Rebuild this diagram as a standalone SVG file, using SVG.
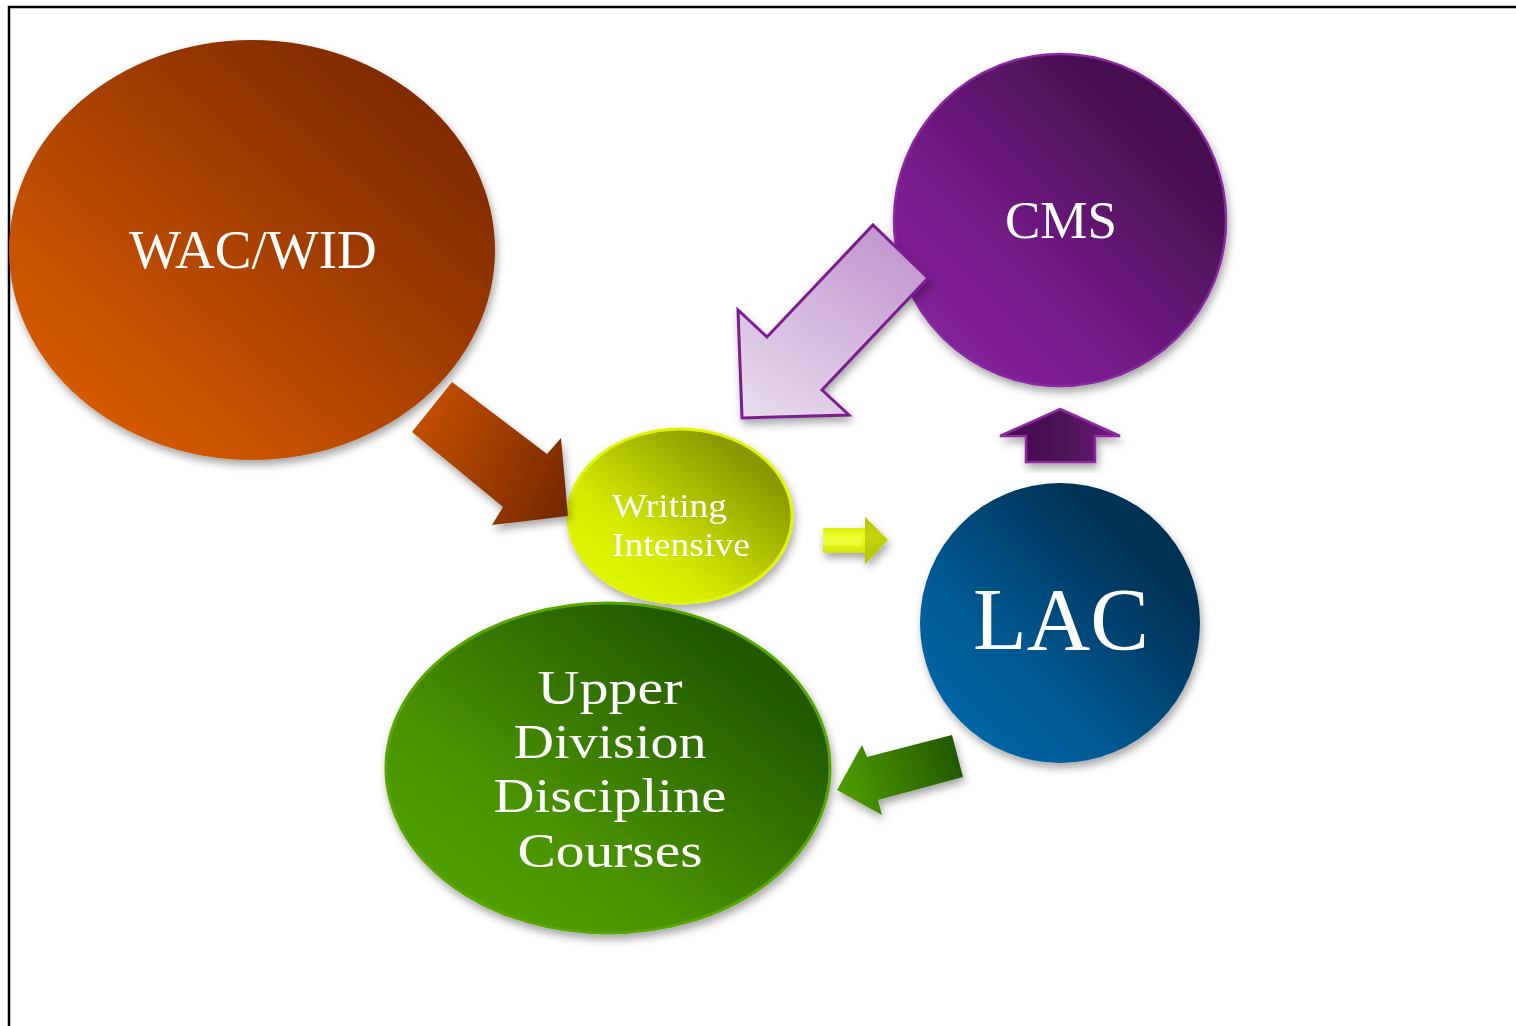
<svg xmlns="http://www.w3.org/2000/svg" width="1516" height="1026" viewBox="0 0 1516 1026">
<defs>
<style>
.lbl{font-family:"Liberation Serif","Times New Roman",serif;fill:#ffffff;}
.mid{text-anchor:middle;}
</style>
<filter id="sh" x="-20%" y="-20%" width="140%" height="140%">
<feDropShadow dx="2" dy="5" stdDeviation="4" flood-color="#000" flood-opacity="0.35"/>
</filter>
<linearGradient id="gWac" x1="0" y1="1" x2="1" y2="0">
<stop offset="0" stop-color="#e26400"/>
<stop offset="0.3" stop-color="#c45000"/>
<stop offset="0.75" stop-color="#8a3000"/>
<stop offset="1" stop-color="#762600"/>
</linearGradient>
<linearGradient id="gCms" x1="0" y1="1" x2="1" y2="0">
<stop offset="0" stop-color="#8a24a0"/>
<stop offset="0.35" stop-color="#771c8c"/>
<stop offset="0.75" stop-color="#4a1054"/>
<stop offset="1" stop-color="#3a0c44"/>
</linearGradient>
<linearGradient id="gLac" x1="0" y1="1" x2="1" y2="0">
<stop offset="0" stop-color="#006cb0"/>
<stop offset="0.35" stop-color="#005a94"/>
<stop offset="0.75" stop-color="#003358"/>
<stop offset="1" stop-color="#002a4a"/>
</linearGradient>
<linearGradient id="gWi" x1="0" y1="1" x2="1" y2="0">
<stop offset="0" stop-color="#e6ff00"/>
<stop offset="0.35" stop-color="#d4ea00"/>
<stop offset="0.8" stop-color="#8a9a00"/>
<stop offset="1" stop-color="#7e8e00"/>
</linearGradient>
<linearGradient id="gUp" x1="0" y1="1" x2="1" y2="0">
<stop offset="0" stop-color="#55a800"/>
<stop offset="0.35" stop-color="#4a9200"/>
<stop offset="0.8" stop-color="#225a00"/>
<stop offset="1" stop-color="#1c5000"/>
</linearGradient>
<linearGradient id="gBrownArrow" x1="0" y1="0.3" x2="1" y2="0.7">
<stop offset="0" stop-color="#c45000"/>
<stop offset="1" stop-color="#7a2a00"/>
</linearGradient>
<linearGradient id="gLavArrow" x1="0.8" y1="0" x2="0.2" y2="1">
<stop offset="0" stop-color="#c194cf"/>
<stop offset="1" stop-color="#e6d8eb"/>
</linearGradient>
<linearGradient id="gUpArrow" x1="0" y1="0" x2="1" y2="0">
<stop offset="0" stop-color="#440f4e"/>
<stop offset="0.55" stop-color="#4c1256"/>
<stop offset="1" stop-color="#741c86"/>
</linearGradient>
<linearGradient id="gYelArrow" x1="0" y1="0" x2="0" y2="1">
<stop offset="0" stop-color="#c8d800"/>
<stop offset="0.4" stop-color="#eaff20"/>
<stop offset="1" stop-color="#c4d400"/>
</linearGradient>
<linearGradient id="gGreenArrow" x1="0" y1="0.6" x2="1" y2="0.4">
<stop offset="0" stop-color="#4f9c00"/>
<stop offset="1" stop-color="#225800"/>
</linearGradient>
</defs>
<rect x="0" y="0" width="1516" height="1026" fill="#ffffff"/>
<path d="M9,1026 V7 H1516" fill="none" stroke="#000" stroke-width="2.5"/>

<g id="node-wac" filter="url(#sh)">
<ellipse cx="252" cy="250" rx="243" ry="210" fill="url(#gWac)"/>
<text class="lbl mid" x="253" y="268" font-size="55">WAC/WID</text>
</g>

<g id="node-cms" filter="url(#sh)">
<circle cx="1060" cy="220" r="166" fill="url(#gCms)" stroke="#8a2aa0" stroke-width="2.5"/>
<text class="lbl mid" x="1061" y="238" font-size="53">CMS</text>
</g>

<g id="node-lac" filter="url(#sh)">
<circle cx="1060" cy="623" r="140" fill="url(#gLac)"/>
<text class="lbl mid" x="1061" y="649" font-size="88">LAC</text>
</g>

<g id="node-wi" filter="url(#sh)">
<ellipse cx="680" cy="516" rx="112" ry="87" fill="url(#gWi)" stroke="#e2f500" stroke-width="3"/>
<text class="lbl" x="612" y="517" font-size="33" textLength="115" lengthAdjust="spacingAndGlyphs">Writing</text>
<text class="lbl" x="612" y="556" font-size="33" textLength="138" lengthAdjust="spacingAndGlyphs">Intensive</text>
</g>

<g id="node-upper" filter="url(#sh)">
<ellipse cx="608" cy="768" rx="222" ry="165" fill="url(#gUp)" stroke="#5aa600" stroke-width="3"/>
<text class="lbl mid" x="610" y="704" font-size="49" textLength="145" lengthAdjust="spacingAndGlyphs">Upper</text>
<text class="lbl mid" x="610" y="758" font-size="49" textLength="193" lengthAdjust="spacingAndGlyphs">Division</text>
<text class="lbl mid" x="610" y="812" font-size="49" textLength="233" lengthAdjust="spacingAndGlyphs">Discipline</text>
<text class="lbl mid" x="610" y="867" font-size="49" textLength="185" lengthAdjust="spacingAndGlyphs">Courses</text>
</g>

<g id="connectors">
<polygon id="arrow-wac-wi" points="452,382 547,454 561,438 568,516 492,525 503,507 412,432" fill="url(#gBrownArrow)" filter="url(#sh)"/>
<polygon id="arrow-cms-wi" points="873,225 928,278 822,390 849,415 742,418 738,310 767,337" fill="url(#gLavArrow)" stroke="#7b1f8f" stroke-width="3" stroke-linejoin="miter" filter="url(#sh)"/>
<polygon id="arrow-lac-cms" points="1060,409 1120,436 1095,436 1095,462 1026,462 1026,436 1000,436" fill="url(#gUpArrow)" stroke="#8e2aa0" stroke-width="2.5" filter="url(#sh)"/>
<g id="arrow-wi-lac" filter="url(#sh)">
<polygon points="823,528 865,528 865,517 888,540 865,564 865,553 823,553" fill="url(#gYelArrow)"/>
<polygon points="865,517 888,540 865,564" fill="#a8b800" opacity="0.6"/>
<polygon points="823,535 862,535 862,546 823,546" fill="#eeff40" opacity="0.7"/>
</g>
<polygon id="arrow-lac-up" points="952,735 963,777 878,800 882,815 837,790 862,745 867,757" fill="url(#gGreenArrow)" filter="url(#sh)"/>
</g>
</svg>
